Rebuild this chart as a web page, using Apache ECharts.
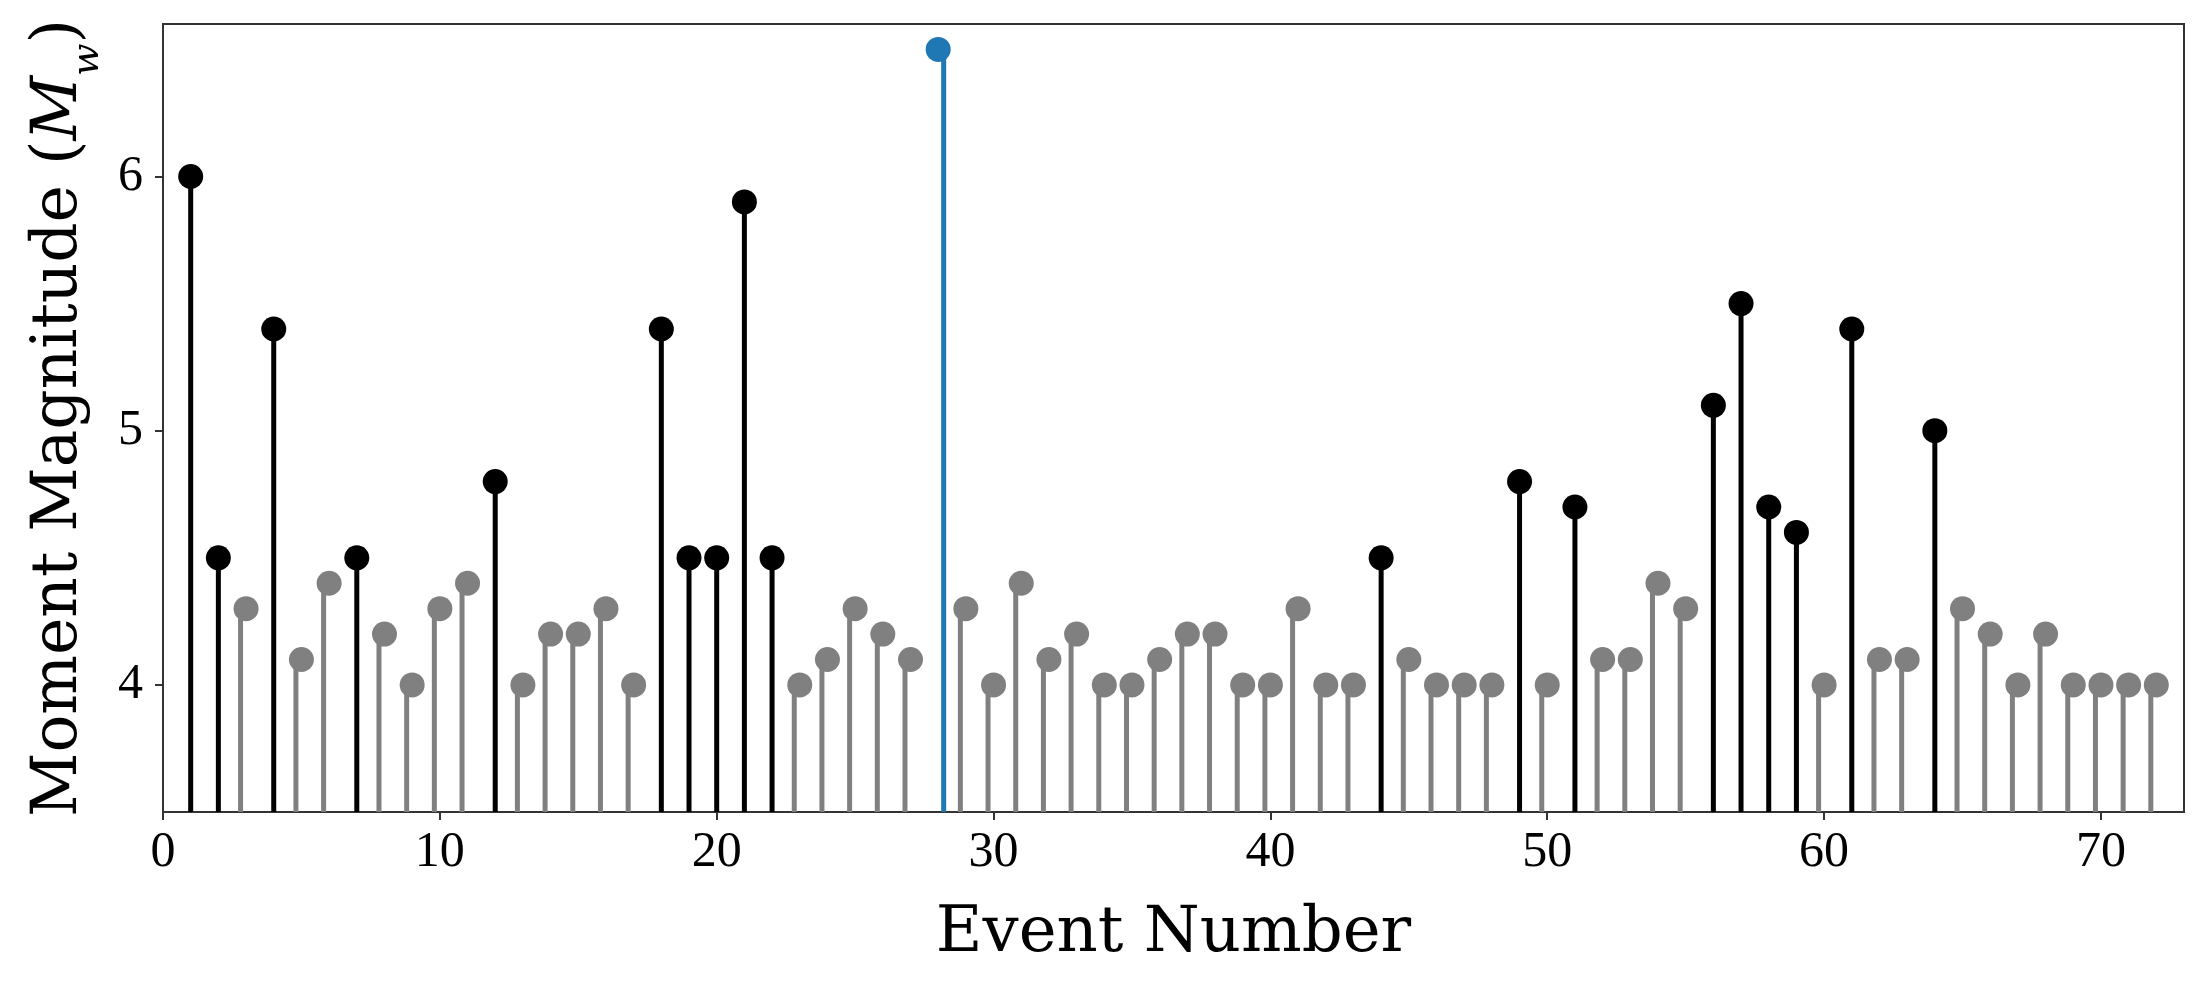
<!DOCTYPE html>
<html>
<head>
<meta charset="utf-8">
<script src="https://cdn.jsdelivr.net/npm/echarts@6/dist/echarts.min.js"></script>
<style>
  html, body { margin: 0; padding: 0; background: #fff; }
  #chart { width: 2207px; height: 990px; }
</style>
</head>
<body>
<div id="chart"></div>
<script>
// event numbers and magnitudes
var eventNumbers = [];
for (var i = 1; i <= 72; i++) eventNumbers.push(i);
var magnitudes = [
  6.0, 4.5, 4.3, 5.4, 4.1, 4.4, 4.5, 4.2, 4.0, 4.3,
  4.4, 4.8, 4.0, 4.2, 4.2, 4.3, 4.0, 5.4, 4.5, 4.5,
  5.9, 4.5, 4.0, 4.1, 4.3, 4.2, 4.1, 6.5, 4.3, 4.0,
  4.4, 4.1, 4.2, 4.0, 4.0, 4.1, 4.2, 4.2, 4.0, 4.0,
  4.3, 4.0, 4.0, 4.5, 4.1, 4.0, 4.0, 4.0, 4.8, 4.0,
  4.7, 4.1, 4.1, 4.4, 4.3, 5.1, 5.5, 4.7, 4.6, 4.0,
  5.4, 4.1, 4.1, 5.0, 4.3, 4.2, 4.0, 4.2, 4.0, 4.0,
  4.0, 4.0
];
var mainEvent = 28;          // highlighted in blue
var largeThreshold = 4.5;    // black stems at or above this
var xTicks = [0, 10, 20, 30, 40, 50, 60, 70];
var yTicks = [4, 5, 6];

var small = [], large = [], main = [];
eventNumbers.forEach(function (n, k) {
  var pt = [n, magnitudes[k]];
  if (n === mainEvent) main.push(pt);
  else if (magnitudes[k] >= largeThreshold) large.push(pt);
  else small.push(pt);
});

function stem(data, color) {
  return [
    { type: 'bar', data: data, barWidth: 5, itemStyle: { color: color }, clip: true, silent: true },
    { type: 'scatter', data: data, symbol: 'circle', symbolSize: 25, itemStyle: { color: color, opacity: 1 }, silent: true }
  ];
}

var nameFont = 'DejaVu Serif';
var tickFont = 'Liberation Serif';
var chart = echarts.init(document.getElementById('chart'));
chart.setOption({
  animation: false,
  grid: { left: 163, right: 23, top: 24, bottom: 178, show: true, borderColor: '#333', borderWidth: 2, containLabel: false },
  xAxis: {
    type: 'value', min: 0, max: 73,
    name: 'Event Number', nameLocation: 'middle', nameGap: 90,
    nameTextStyle: { fontFamily: nameFont, fontSize: 64, color: '#000' },
    axisLine: { show: true, lineStyle: { color: '#333', width: 2 } },
    axisTick: { show: true, customValues: xTicks, length: 8, lineStyle: { color: '#333', width: 2 } },
    axisLabel: { customValues: xTicks, fontFamily: tickFont, fontSize: 50, color: '#000', margin: 16 },
    splitLine: { show: false }
  },
  yAxis: {
    type: 'value', min: 3.5, max: 6.6,
    name: 'Moment Magnitude ({it|M}{sub|w})', nameLocation: 'middle', nameGap: 70,
    nameTextStyle: {
      fontFamily: nameFont, fontSize: 63, color: '#000',
      rich: {
        it: { fontFamily: nameFont, fontSize: 63, fontStyle: 'italic', color: '#000' },
        sub: { fontFamily: nameFont, fontSize: 38, fontStyle: 'italic', color: '#000', verticalAlign: 'bottom', padding: [0, 0, -16, 0] }
      }
    },
    axisLine: { show: true, lineStyle: { color: '#333', width: 2 } },
    axisTick: { show: true, customValues: yTicks, length: 8, lineStyle: { color: '#333', width: 2 } },
    axisLabel: { customValues: yTicks, fontFamily: tickFont, fontSize: 50, color: '#000', margin: 20 },
    splitLine: { show: false }
  },
  series: [].concat(
    stem(small, '#808080'),
    stem(large, '#000000'),
    stem(main, '#1f77b4')
  )
});
</script>
</body>
</html>
